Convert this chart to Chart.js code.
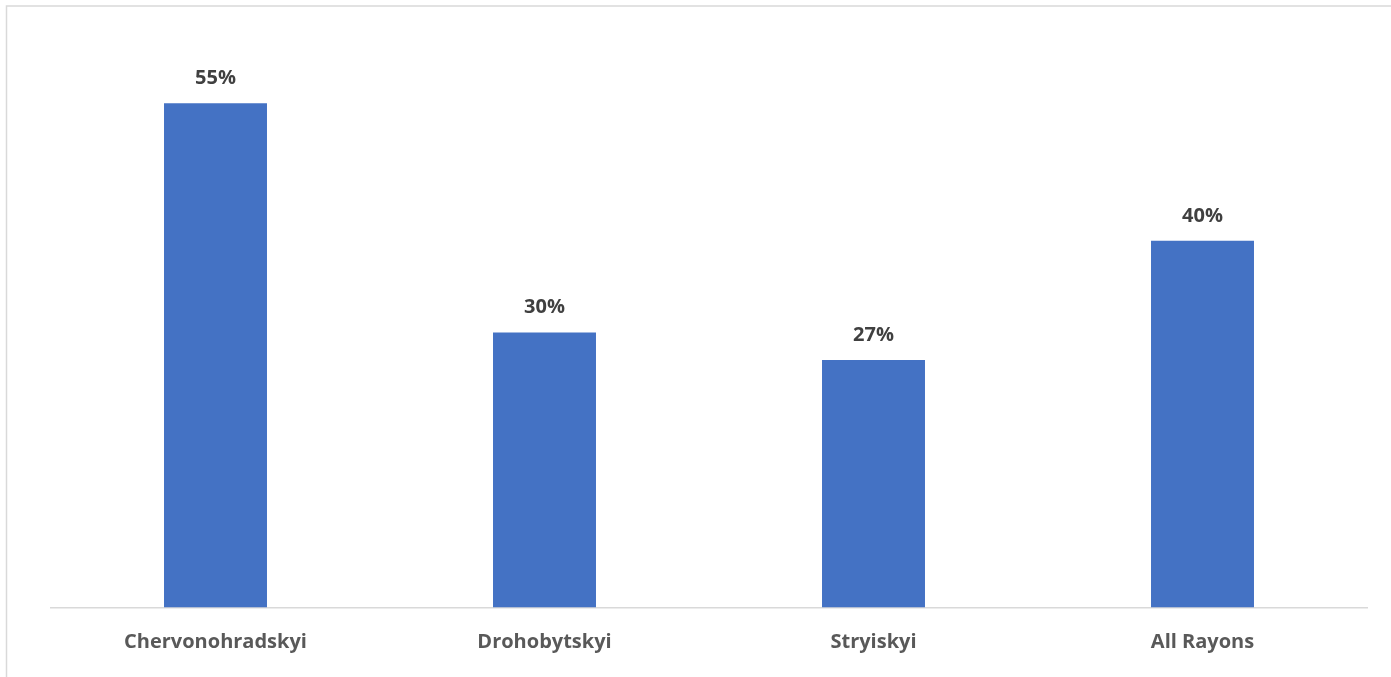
<!DOCTYPE html>
<html>
<head>
<meta charset="utf-8">
<title>Rayons</title>
<script src="https://cdn.jsdelivr.net/npm/chart.js@4.4.0/dist/chart.umd.min.js"></script>
<style>
  html, body { margin: 0; padding: 0; background: #ffffff; }
  #wrap { position: relative; width: 1391px; height: 677px; }
</style>
</head>
<body>
<div id="wrap"><canvas id="rayonChart" width="1391" height="677"></canvas></div>
<script>
// Share per rayon, in percent
const rayons = ['Chervonohradskyi', 'Drohobytskyi', 'Stryiskyi', 'All Rayons'];
const shares = [55, 30, 27, 40];
const axisMax = 60;

const barColor = '#4472c4';
const lineGray = '#d9d9d9';
const fontFamily = '"Open Sans", "Noto Sans", sans-serif';

// Light frame around the chart area, open at the right and bottom edges
const framePlugin = {
  id: 'frame',
  beforeDraw(chart) {
    const ctx = chart.ctx;
    ctx.save();
    ctx.strokeStyle = lineGray;
    ctx.lineWidth = 1.5;
    ctx.strokeRect(6.5, 6, chart.width + 20, chart.height + 20);
    ctx.restore();
  }
};

// Percent labels above each bar
const valueLabels = {
  id: 'valueLabels',
  afterDatasetsDraw(chart) {
    const ctx = chart.ctx;
    const meta = chart.getDatasetMeta(0);
    ctx.save();
    ctx.font = 'bold 20px ' + fontFamily;
    ctx.fillStyle = '#404040';
    ctx.textAlign = 'center';
    ctx.textBaseline = 'middle';
    meta.data.forEach((bar, i) => {
      ctx.fillText(shares[i] + '%', bar.x, bar.y - 25);
    });
    ctx.restore();
  }
};

const chart = new Chart(document.getElementById('rayonChart'), {
  type: 'bar',
  data: {
    labels: rayons,
    datasets: [{
      data: shares,
      backgroundColor: barColor,
      borderWidth: 0,
      categoryPercentage: 1,
      barPercentage: 0.313
    }]
  },
  options: {
    responsive: false,
    animation: false,
    layout: {
      padding: { left: 51, right: 24, top: 57.5, bottom: 0 }
    },
    plugins: {
      legend: { display: false },
      tooltip: { enabled: false }
    },
    scales: {
      x: {
        grid: { display: false },
        border: { color: lineGray, width: 1.5 },
        ticks: {
          color: '#595959',
          padding: 15,
          maxRotation: 0,
          font: { family: fontFamily, size: 20, weight: 'bold' }
        },
        afterFit(scale) {
          scale.height = 69.5;
        }
      },
      y: {
        display: false,
        min: 0,
        max: axisMax
      }
    }
  },
  plugins: [framePlugin, valueLabels]
});
</script>
</body>
</html>
